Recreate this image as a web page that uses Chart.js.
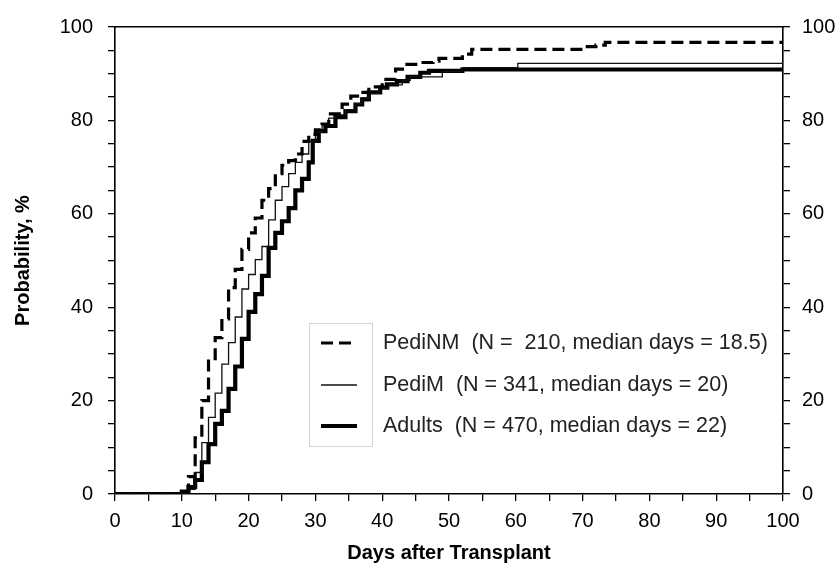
<!DOCTYPE html>
<html><head><meta charset="utf-8">
<script src="https://cdn.jsdelivr.net/npm/chart.js@4.4.0/dist/chart.umd.min.js"></script>
<style>html,body{margin:0;padding:0;background:#fff}#c{display:block}</style>
</head><body>
<canvas id="c" width="840" height="569"></canvas>
<script>
// ---- data ----
const seriesLabels = [
  'PediNM  (N =  210, median days = 18.5)',
  'PediM  (N = 341, median days = 20)',
  'Adults  (N = 470, median days = 22)'
];
const pediNMDays   = [0, 11, 12, 13, 14, 15, 16, 17, 18, 19, 20, 21, 22, 23, 24, 25, 26, 27, 28, 29, 30, 31, 32, 34, 35.3, 36.7, 38, 40, 42, 43.4, 45.7, 47.6, 48.5, 52, 53.4, 70.7, 72, 73.4, 100];
const pediNMValues = [0, 3.7, 12, 20, 29, 33.5, 37.5, 44.2, 48.1, 52.4, 55.9, 59.1, 62.9, 65.4, 68.6, 70.4, 71.4, 72.8, 75.5, 77, 78, 79.2, 81.4, 83.5, 85.2, 86, 87.2, 88.8, 91, 92, 92.4, 92.7, 93.3, 94.2, 95.2, 95.8, 96.1, 96.7, 96.7];
const pediMDays    = [0, 11, 12, 13, 14, 15, 16, 17, 18, 19, 20, 21, 22, 23, 24, 25, 26, 27, 28, 29, 30, 31, 32, 33, 34.5, 36, 37, 38, 39.5, 41, 43, 44.2, 49, 52, 60.3, 100];
const pediMValues  = [0, 1, 4.6, 11, 16.4, 21.6, 27.8, 32.4, 37.9, 43.9, 47, 50.2, 53, 58.7, 62.9, 65.8, 68.6, 71, 72.8, 75.5, 77.5, 79, 80.5, 81.2, 82.3, 83.6, 84.8, 85.8, 86.8, 87.6, 88.6, 89.3, 90.5, 91.3, 92.2, 92.2];
const adultsDays   = [0, 10, 11, 12, 13, 14, 15, 16, 17, 18, 19, 20, 21, 22, 23, 24, 25, 26, 27, 28, 29, 29.6, 30.5, 31.5, 33, 34.5, 36, 37, 38, 39.7, 40.7, 42.2, 43.8, 45.7, 47, 52, 100];
const adultsValues = [0, 0.5, 1.5, 3, 6.8, 10.7, 15, 17.8, 22.5, 27.3, 33.2, 39, 42.8, 46.7, 52.7, 55.9, 58.4, 61.2, 65, 67.5, 71, 75.6, 77.7, 78.8, 80.7, 82, 83.4, 84.5, 86, 87, 87.7, 88.4, 89.3, 90.2, 90.6, 90.9, 90.9];
const xTickLabels = [0, 10, 20, 30, 40, 50, 60, 70, 80, 90, 100];
const yTickLabels = [0, 20, 40, 60, 80, 100];

const toPts = (xs, ys) => xs.map((x, i) => ({x: x, y: ys[i]}));

Chart.defaults.font.family = "'Liberation Sans', Arial, sans-serif";
Chart.defaults.color = '#000';

const legendPlugin = {
  id: 'boxLegend',
  afterDatasetsDraw(chart) {
    const ctx = chart.ctx;
    ctx.save();
    ctx.strokeStyle = '#d4d4d4';
    ctx.lineWidth = 1;
    ctx.strokeRect(309.5, 323.5, 63, 123);
    const rows = [343, 385, 426];
    chart.data.datasets.forEach((ds, i) => {
      const y = rows[i];
      ctx.beginPath();
      ctx.strokeStyle = ds.borderColor;
      ctx.lineWidth = ds.borderWidth;
      ctx.setLineDash(ds.borderDash || []);
      ctx.moveTo(321, y);
      ctx.lineTo(357, y);
      ctx.stroke();
      ctx.setLineDash([]);
      ctx.fillStyle = '#222';
      ctx.font = "21.5px 'Liberation Sans', Arial, sans-serif";
      ctx.textBaseline = 'middle';
      ctx.textAlign = 'left';
      ctx.fillText(ds.label, 383, y);
    });
    ctx.restore();
  }
};

const tickFont = {size: 20};
const mkGrid = () => ({display: true, drawOnChartArea: false, drawTicks: true, tickLength: 7, color: '#000', lineWidth: 1.3});
const yCallback = v => (yTickLabels.includes(v) ? String(v) : '');
const xCallback = v => (xTickLabels.includes(v) ? String(v) : '');

new Chart(document.getElementById('c'), {
  type: 'line',
  data: {
    datasets: [
      {label: seriesLabels[0], data: toPts(pediNMDays, pediNMValues), stepped: 'before', borderColor: '#000', borderWidth: 3.2, borderDash: [12, 6], pointRadius: 0, fill: false, order: 0, borderCapStyle: 'butt', borderJoinStyle: 'miter'},
      {label: seriesLabels[1], data: toPts(pediMDays, pediMValues), stepped: 'before', borderColor: '#111', borderWidth: 1.3, pointRadius: 0, fill: false, order: 1, borderJoinStyle: 'miter'},
      {label: seriesLabels[2], data: toPts(adultsDays, adultsValues), stepped: 'before', borderColor: '#000', borderWidth: 4.2, pointRadius: 0, fill: false, order: 2, borderJoinStyle: 'miter'}
    ]
  },
  options: {
    responsive: false,
    devicePixelRatio: 1,
    animation: false,
    layout: {padding: 0},
    plugins: {legend: {display: false}, tooltip: {enabled: false}},
    scales: {
      x: {
        type: 'linear', position: 'bottom', min: 0, max: 100,
        ticks: {stepSize: 5, autoSkip: false, maxRotation: 0, callback: xCallback, font: tickFont, padding: 8, color: '#000'},
        grid: mkGrid(),
        border: {display: true, color: '#000', width: 1.6},
        title: {display: true, text: 'Days after Transplant', font: {size: 20, weight: 'bold'}, color: '#000', padding: {top: 0, bottom: 4}},
        afterFit: s => { s.height = 75; }
      },
      x2: {
        type: 'linear', position: 'top', min: 0, max: 100,
        ticks: {display: false},
        grid: {display: false},
        border: {display: true, color: '#000', width: 1.6},
        afterFit: s => { s.height = 22; }
      },
      y: {
        type: 'linear', position: 'left', min: 0, max: 100,
        ticks: {stepSize: 5, autoSkip: false, callback: yCallback, font: tickFont, padding: 15, color: '#000'},
        grid: mkGrid(),
        border: {display: true, color: '#000', width: 1.6},
        title: {display: true, text: 'Probability, %', font: {size: 20, weight: 'bold'}, color: '#000', padding: {top: 11, bottom: 0}},
        afterFit: s => { s.width = 115; }
      },
      y2: {
        type: 'linear', position: 'right', min: 0, max: 100,
        ticks: {stepSize: 5, autoSkip: false, callback: yCallback, font: tickFont, padding: 12, color: '#000'},
        grid: mkGrid(),
        border: {display: true, color: '#000', width: 1.6},
        afterFit: s => { s.width = 57; }
      }
    }
  },
  plugins: [legendPlugin]
});
</script>
</body></html>
